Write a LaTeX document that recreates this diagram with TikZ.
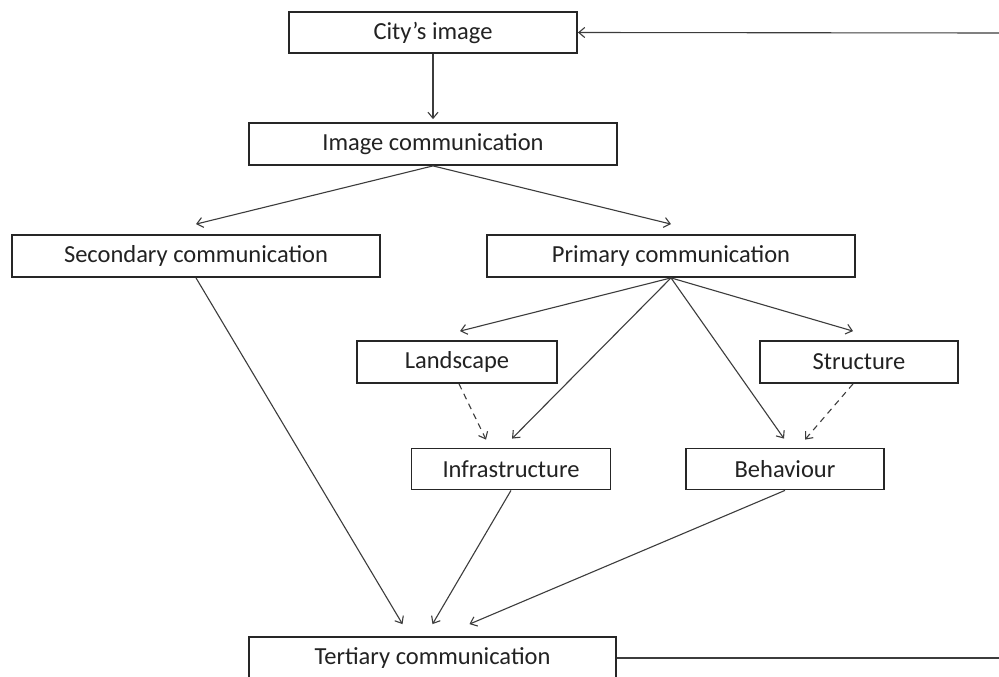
\documentclass[tikz,border=0pt]{standalone}
\usepackage{fontspec}
\setmainfont{Carlito}
\usetikzlibrary{arrows.meta}
\definecolor{boxline}{HTML}{262626}
\definecolor{linkline}{HTML}{3C3C3C}
\definecolor{txt}{HTML}{222222}
\tikzset{
  stage/.style={draw=boxline, line width=1.8pt, fill=white, rectangle,
    inner sep=0pt, text=txt, font=\fontsize{24.5}{28}\selectfont},
  link/.style={draw=linkline, line width=1.1pt,
    -{Straight Barb[length=6pt,width=10pt,line width=1.1pt]}},
  weaklink/.style={link, dash pattern=on 6pt off 5pt},
  plainlink/.style={draw=linkline, line width=1.1pt},
}
\begin{document}
\begin{tikzpicture}[x=1pt,y=-1pt]
\useasboundingbox (0,0) rectangle (999,677);
\fill[white] (0,0) rectangle (999,677);

% boxes
\node[stage, minimum width=288pt, minimum height=41pt] (city)    at (433,32.5) {City’s image};
\node[stage, minimum width=368pt, minimum height=42pt] (imgcom)  at (433,144)  {Image communication};
\node[stage, minimum width=368pt, minimum height=42pt] (second)  at (196,256)  {Secondary communication};
\node[stage, minimum width=368pt, minimum height=42pt] (primary) at (671,256)  {Primary communication};
\node[stage, minimum width=200pt, minimum height=42pt] (land)    at (457,362)  {Landscape};
\node[stage, minimum width=198pt, minimum height=42pt] (struct)  at (859,362)  {Structure};
\node[stage, minimum width=199pt, minimum height=41pt] (infra)   at (511,469)  {Infrastructure};
\node[stage, minimum width=198pt, minimum height=41pt] (behav)   at (785,469)  {Behaviour};
\node[stage, minimum width=367pt, minimum height=42pt] (tert)    at (432.5,658) {Tertiary communication};

% loose ends of the feedback loop at the right margin
\coordinate (loopin)  at (999,33);
\coordinate (loopout) at (999,658);

% feedback loop
\draw[link] (loopin) -- (city.east);
\draw[plainlink] (tert.east) -- (loopout);

% top of the hierarchy
\draw[link] (city.south) -- ([yshift=3pt]imgcom.north);
\draw[link] (imgcom.south) -- ([yshift=10pt]second.north);
\draw[link] (imgcom.south) -- ([yshift=10pt]primary.north);

% primary communication
\draw[link] (primary.south) -- ([xshift=3pt,yshift=9pt]land.north);
\draw[link] (primary.south) -- ([xshift=-6pt,yshift=9pt]struct.north);
\draw[link] (primary.south) -- ([xshift=1pt,yshift=9pt]infra.north);
\draw[link] (primary.south) -- ([xshift=-1pt,yshift=9pt]behav.north);

% indirect influences
\draw[weaklink] ([xshift=2pt]land.south) -- ([xshift=-25pt,yshift=8pt]infra.north);
\draw[weaklink] ([xshift=-6pt]struct.south) -- ([xshift=20pt,yshift=8pt]behav.north);

% towards tertiary communication
\draw[link] (second.south) -- ([xshift=-30pt,yshift=12pt]tert.north);
\draw[link] (infra.south) -- ([xshift=0pt,yshift=12pt]tert.north);
\draw[link] (behav.south) -- ([xshift=37pt,yshift=12pt]tert.north);
\end{tikzpicture}
\end{document}
